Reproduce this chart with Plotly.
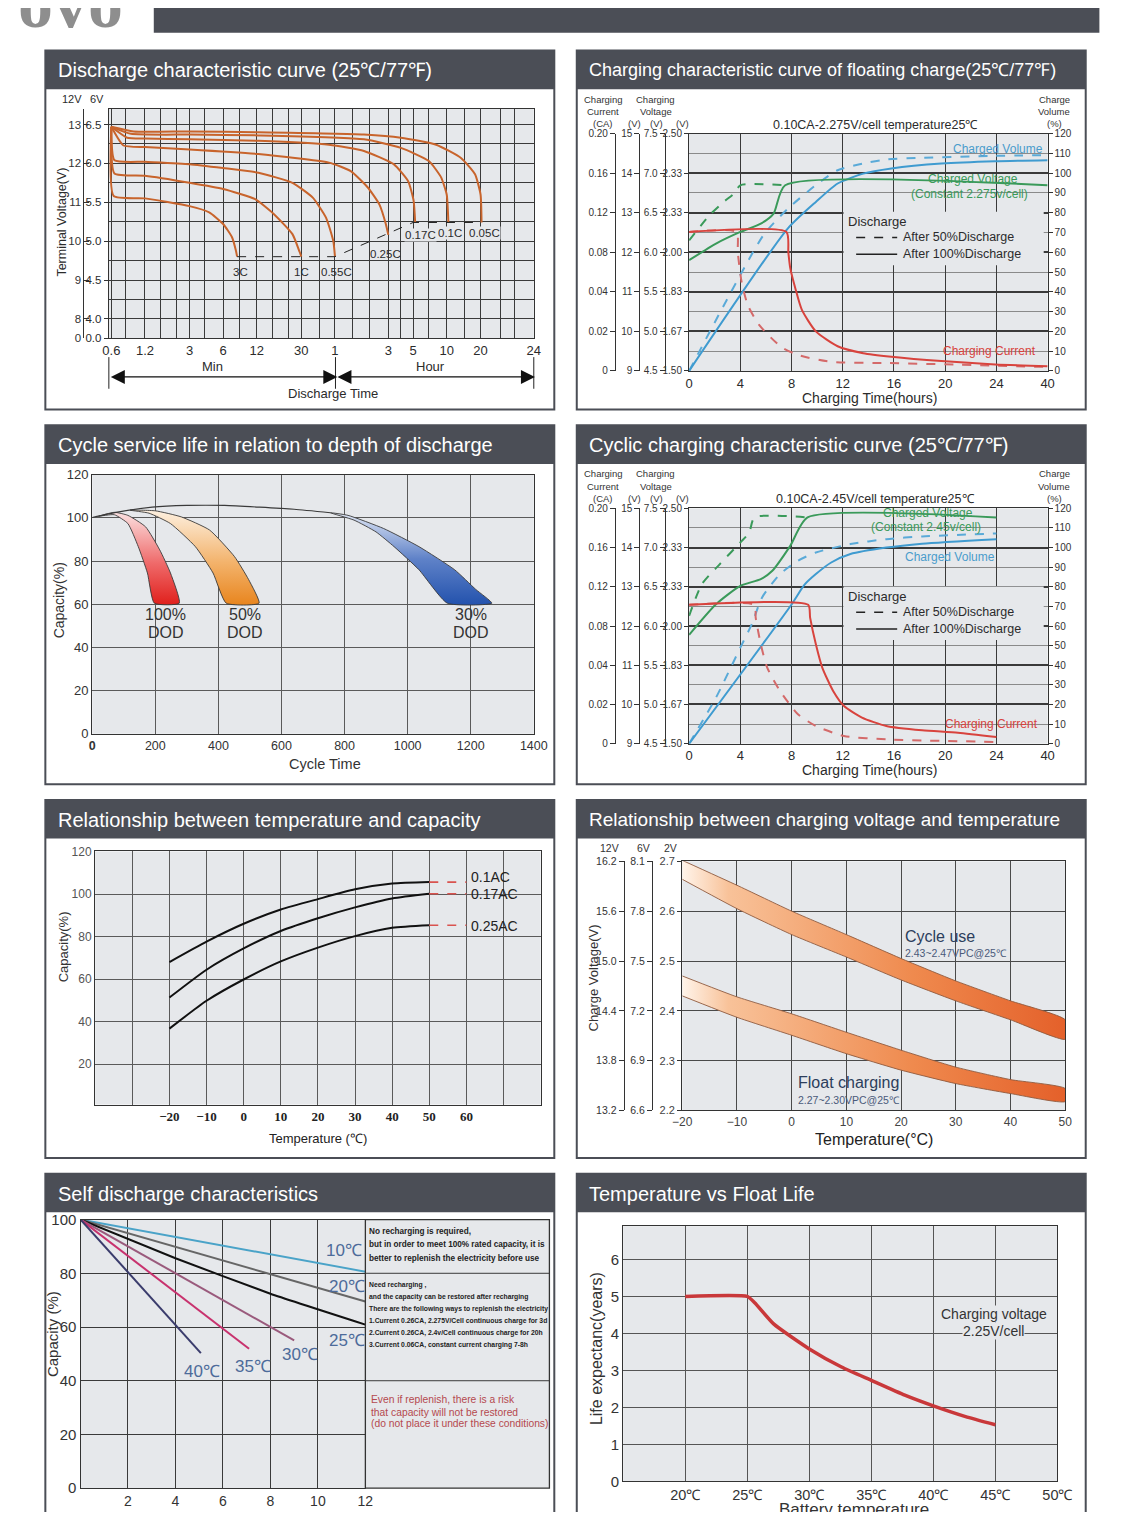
"""Battery datasheet: eight characteristic charts rebuilt with Plotly."""

import numpy as np
import plotly.graph_objects as go

# the page keeps the browser's 8px body margin, so the figure is drawn 16px
# smaller than the photographed window and every pixel position is offset
W, H = 1140, 1520
OFF = 8
FW, FH = W - 2 * OFF, H - 2 * OFF

SANS = "Liberation Sans, Arial, sans-serif"
SERIF = "Liberation Serif, Times New Roman, serif"

HEAD = "#4b4e56"
BG = "#e6e8eb"
GRID = "#3a3a3a"
INK = "#2b2b2b"
COLORS = {
    "discharge": "#c8642c",
    "blue": "#3f9bd0",
    "blue_dash": "#5aaad8",
    "green": "#3a9a5a",
    "red": "#d8433d",
    "red_dash": "#d46a6a",
}

# ---------------------------------------------------------------- data
# 1. discharge curves: time in minutes, voltage on the 6V scale
DIS_TICK_MIN = [0.6, 1.2, 3, 6, 12, 30, 60, 180, 300, 600, 1200, 3600]
DIS_TICK_TEXT = ["0.6", "1.2", "3", "6", "12", "30", "1", "3", "5", "10", "20", "24"]
DIS_GRID_MIN = [0.8, 1.65, 2.3, 4.1, 8.4, 16.7, 23, 44, 86, 122, 230, 415, 865, 1800, 2400]
DIS_V6_TICKS = [3.75, 4.0, 4.5, 5.0, 5.5, 6.0, 6.5]
DIS_V6_TEXT = ["0.0", "4.0", "4.5", "5.0", "5.5", "6.0", "6.5"]
DIS_V12_TEXT = ["0", "8", "9", "10", "11", "12", "13"]

T_3C = [0.6, 0.63, 1.2, 3.0, 4.5, 6.0, 7.2, 7.8, 8.0]
V_3C = [6.47, 5.58, 5.55, 5.45, 5.37, 5.22, 5.05, 4.88, 4.80]
T_1C = [0.6, 0.64, 1.2, 3, 6, 11.6, 17, 25, 29, 30]
V_1C = [6.47, 5.87, 5.84, 5.75, 5.67, 5.54, 5.35, 5.09, 4.86, 4.80]
T_055C = [0.6, 0.64, 1.2, 3, 6, 12.4, 25, 38, 50, 58, 60]
V_055C = [6.47, 6.04, 6.02, 5.99, 5.94, 5.88, 5.75, 5.56, 5.30, 5.00, 4.80]
T_025C = [0.6, 0.77, 1.2, 3, 12.4, 53, 83, 118, 150, 171, 180]
V_025C = [6.47, 6.23, 6.21, 6.18, 6.12, 6.01, 5.90, 5.69, 5.47, 5.22, 5.08]
T_017C = [0.6, 0.83, 1.2, 3, 12.4, 53, 109, 201, 271, 303, 313]
V_017C = [6.47, 6.33, 6.32, 6.31, 6.29, 6.24, 6.16, 5.99, 5.77, 5.52, 5.24]
T_01C = [0.6, 0.9, 3, 12.4, 109, 233, 415, 534, 599, 620]
V_01C = [6.47, 6.38, 6.37, 6.36, 6.31, 6.20, 6.03, 5.82, 5.60, 5.24]
T_005C = [0.6, 0.95, 3, 12.4, 109, 233, 482, 804, 1074, 1203, 1228]
V_005C = [6.47, 6.41, 6.41, 6.40, 6.37, 6.33, 6.24, 6.07, 5.86, 5.60, 5.24]
CUTOFF_T = [8, 60, 300, 1228]
CUTOFF_V = [4.80, 4.80, 5.24, 5.24]
RATE_NAMES = ["3C", "1C", "0.55C", "0.25C", "0.17C", "0.1C", "0.05C"]
RATE_LABEL_T = [8.6, 30, 62, 171, 347, 643, 1310]
RATE_LABEL_V = [4.60, 4.60, 4.60, 4.83, 5.08, 5.11, 5.10]

# 2./4. charging curves: hours (last gridline is labelled 40), % of right scale
CHG_T_TICKS = [0, 4, 8, 12, 16, 20, 24, 28]
CHG_T_TEXT = ["0", "4", "8", "12", "16", "20", "24", "40"]
CHG_PCT_TICKS = [0, 20, 40, 60, 80, 100, 120]
CHG_PCT_MINOR = [10, 30, 50, 70, 90, 110]
CHG_VOL_TICKS = [0, 10, 20, 30, 40, 50, 60, 70, 80, 90, 100, 110, 120]
CHG_CA_TEXT = ["0", "0.02", "0.04", "0.08", "0.12", "0.16", "0.20"]
CHG_V12_TEXT = ["9", "10", "11", "12", "13", "14", "15"]
CHG_V6_TEXT = ["4.5", "5.0", "5.5", "6.0", "6.5", "7.0", "7.5"]
CHG_VPC_TEXT = ["1.50", "1.67", "1.83", "2.00", "2.33", "2.33", "2.50"]

F_VOL50_T = [0, 5.8, 7.7, 9.9, 11.6, 13.6, 15.5, 18.3, 23.9, 28]
F_VOL50 = [0, 68.6, 82, 94, 101.5, 104.9, 107, 107.8, 108.8, 109.1]
F_VOL100_T = [0, 7.7, 9.9, 11.6, 13.6, 15.8, 19.7, 23.9, 28]
F_VOL100 = [0, 72, 85.5, 94.8, 99.8, 102.4, 104.9, 106.1, 106.6]
F_VLT50_T = [0, 1.6, 2.7, 3.5, 4.0, 7.5]
F_VLT50 = [66, 78.8, 85.5, 89.7, 93.9, 93.9]
F_VLT100_T = [0, 2.1, 4, 5.6, 6.6, 7.5, 28]
F_VLT100 = [56, 64.4, 70.3, 74.5, 79.6, 93.9, 93.9]
F_CUR50_T = [0, 3.7, 3.8, 4.1, 4.6, 5.5, 7.2, 8.6, 11.1, 15.5, 21.1, 28]
F_CUR50 = [70.3, 70.3, 60, 45, 33, 23, 12.1, 7.9, 4.6, 4.0, 3.2, 2.0]
F_CUR100_T = [0, 7.6, 7.75, 7.9, 8.3, 8.8, 9.9, 11.6, 13.6, 15.8, 19.7, 23.9, 28]
F_CUR100 = [70.3, 70.3, 60, 52, 41.7, 31, 20, 12.5, 9, 7.2, 5, 3.3, 2.4]

C_VOL50_T = [0, 2.1, 4, 4.9, 5.7, 7.1, 8.5, 9.9, 12.6, 15.4, 18.2, 24]
C_VOL50 = [0, 23.5, 49, 61, 74.6, 86.5, 93.3, 97.5, 101.8, 104.3, 105.7, 107.2]
C_VOL100_T = [0, 8, 9, 9.9, 11.1, 12.6, 15.4, 18.2, 24]
C_VOL100 = [0, 71, 81, 86.5, 92.4, 96.7, 100, 102, 104.3]
C_VLT50_T = [0, 1, 2.4, 4, 4.7, 5.1, 9.25]
C_VLT50 = [65.2, 81.4, 91.6, 102.6, 107.7, 115.4, 115.4]
C_VLT100_T = [0, 2.1, 4, 5.6, 6.5, 7.9, 9.25, 24]
C_VLT100 = [55.5, 71.1, 80.5, 83.9, 88.2, 100.9, 115.4, 115.4]
C_CUR50_T = [0, 5.1, 5.2, 5.6, 6.1, 7.1, 8.5, 9.9, 12.1, 15.4, 24]
C_CUR50 = [70.8, 70.8, 64.3, 50.7, 38.8, 26.9, 15, 9, 3.9, 2.2, 0.9]
C_CUR100_T = [0, 9.3, 9.45, 9.9, 10.4, 11.25, 12.1, 13.5, 15.4, 18.2, 21, 24]
C_CUR100 = [70.8, 70.8, 64.3, 50.7, 38.8, 26.9, 19.2, 13.3, 9, 6.8, 5.6, 3.4]

# 3. cycle life: cycles vs capacity %
ENV_X = [0, 80, 190, 300, 420, 530, 640, 755]
ENV_Y = [100.2, 102.7, 105, 105.8, 105.8, 105, 104, 102.4]
RED_L_X = [20, 70, 113, 146, 175, 197]
RED_L_Y = [100.8, 101.5, 97.4, 86.7, 74.5, 60.5]
RED_R_X = [20, 70, 113, 169, 214, 248, 276]
RED_R_Y = [100.8, 102.6, 101.2, 95.9, 85.2, 74.5, 60.5]
ORG_L_X = [120, 180, 248, 327, 383, 425]
ORG_L_Y = [103.6, 102.2, 97.4, 86.7, 74.5, 60.5]
ORG_R_X = [120, 200, 282, 372, 451, 496, 529]
ORG_R_Y = [103.6, 103.3, 100.5, 94.4, 82.1, 71.4, 60.5]
BLU_L_X = [755, 830, 900, 957, 1036, 1126]
BLU_L_Y = [102.4, 99.0, 93.5, 86.7, 76, 60.5]
BLU_R_X = [755, 811, 924, 1036, 1149, 1216, 1267]
BLU_R_Y = [102.4, 101.2, 95.1, 86.7, 76, 66.9, 60.5]

# 5. temperature vs capacity
TC_TICKS = [-30, -20, -10, 0, 10, 20, 30, 40, 50, 60, 70]
TC_TEXT = ["", "−20", "−10", "0", "10", "20", "30", "40", "50", "60", ""]
TC_TEMP = [-20, -10, 0, 10, 20, 30, 40, 50]
CAP_01 = [68.0, 77.6, 86.0, 92.7, 97.6, 102.2, 104.9, 105.6]
CAP_017 = [51.3, 64.4, 74.4, 82.6, 88.6, 93.7, 97.9, 100.1]
CAP_025 = [36.7, 49.8, 59.8, 68.3, 74.8, 80.2, 84.1, 85.3]
TC_EXT = [50, 60]
CAP_NAMES = ["0.1AC", "0.17AC", "0.25AC"]

# 6. charging voltage vs temperature (per cell)
CV_TICKS = [2.2, 2.3, 2.4, 2.5, 2.6, 2.7]
CV_12V = ["13.2", "13.8", "14.4", "15.0", "15.6", "16.2"]
CV_6V = ["6.6", "6.9", "7.2", "7.5", "7.8", "8.1"]
CV_2V = ["2.2", "2.3", "2.4", "2.5", "2.6", "2.7"]
CV_TEMP = [-20, -10, 0, 10, 20, 30, 40, 50]
CYCLE_HI = [2.702, 2.652, 2.600, 2.553, 2.505, 2.460, 2.420, 2.382]
CYCLE_LO = [2.664, 2.605, 2.553, 2.508, 2.462, 2.420, 2.382, 2.343]
FLOAT_HI = [2.470, 2.428, 2.394, 2.357, 2.321, 2.287, 2.262, 2.244]
FLOAT_LO = [2.430, 2.387, 2.351, 2.314, 2.281, 2.254, 2.234, 2.218]

# 7. self discharge: months vs capacity %
SD_TICKS = [2, 4, 6, 8, 10, 12]
SD_10_X, SD_10_Y = [0, 12], [100, 80.6]
SD_20_X, SD_20_Y = [0, 12], [100, 69.5]
SD_25_X, SD_25_Y = [0, 4, 8, 12], [100, 85.6, 72.4, 60.9]
SD_30_X, SD_30_Y = [0, 9.0], [100, 55.0]
SD_35_X, SD_35_Y = [0, 7.1], [100, 51.9]
SD_40_X, SD_40_Y = [0, 5.07], [100, 50.3]

# 8. float life
FL_TICKS = [20, 25, 30, 35, 40, 45, 50]
FL_TEXT = ["20℃", "25℃", "30℃", "35℃", "40℃", "45℃", "50℃"]
FL_TEMP = [20, 25, 25.6, 27.15, 30, 32.6, 35, 37.7, 40, 42.6, 45]
FL_LIFE = [5.0, 5.0, 4.83, 4.25, 3.58, 3.09, 2.73, 2.33, 2.04, 1.75, 1.53]

# ---------------------------------------------------------------- helpers
fig = go.Figure()
axes = {}
shapes = []
notes = []
count = {"x": 0, "y": 0}


def hx(p):
    """window pixel x -> paper x"""
    return (p - OFF) / FW


def vy(p):
    """window pixel y (from top) -> paper y"""
    return 1 - (p - OFF) / FH


def new_axis(kind):
    count[kind] += 1
    n = count[kind]
    return kind + (str(n) if n > 1 else "")


def key(name):
    return name[0] + "axis" + name[1:]


def font(size, color=INK, family=SANS):
    return dict(size=size, color=color, family=family)


def text(x, y, s, size=12, color=INK, family=SANS, anchor="center", angle=0, bg=None):
    notes.append(dict(x=hx(x), y=vy(y), xref="paper", yref="paper", text=s,
                      showarrow=False, xanchor=anchor, yanchor="middle",
                      textangle=angle, font=font(size, color, family),
                      bgcolor=bg, borderpad=0))


def hline(x0, x1, y, color="#222", width=1, dash="solid"):
    shapes.append(dict(type="line", xref="paper", yref="paper", x0=hx(x0), x1=hx(x1),
                       y0=vy(y), y1=vy(y), line=dict(color=color, width=width, dash=dash)))


def vline(x, y0, y1, color="#222", width=1):
    shapes.append(dict(type="line", xref="paper", yref="paper", x0=hx(x), x1=hx(x),
                       y0=vy(y0), y1=vy(y1), line=dict(color=color, width=width)))


def frame_axis(**kw):
    base = dict(showline=True, mirror=True, linecolor="#333", linewidth=1.3,
                zeroline=False, showgrid=True, gridcolor=GRID, gridwidth=1,
                ticks="", fixedrange=True)
    base.update(kw)
    return base


def side_axis(over, pos, vals, labels, rng, ticks="outside", size=10.5):
    return dict(overlaying=over, anchor="free", position=hx(pos), side="left",
                range=rng, tickvals=vals, ticktext=labels, ticks=ticks, ticklen=5,
                tickcolor="#333", showline=True, linecolor="#333", linewidth=1,
                showgrid=False, zeroline=False, fixedrange=True,
                tickfont=font(size, "#333", SANS))


def dummy(xa, ya):
    fig.add_trace(go.Scatter(x=[None], y=[None], xaxis=xa, yaxis=ya,
                             hoverinfo="skip", showlegend=False))


def curve(xa, ya, xs, ys, color, width=2, dash="solid", shape="spline", smoothing=0.6):
    fig.add_trace(go.Scatter(x=xs, y=ys, xaxis=xa, yaxis=ya, mode="lines",
                             line=dict(color=color, width=width, dash=dash,
                                       shape=shape, smoothing=smoothing),
                             hoverinfo="skip", showlegend=False))


def band(xa, ya, xs, ys, gradient, colors, edge="#3a3a3a"):
    fig.add_trace(go.Scatter(x=xs, y=ys, xaxis=xa, yaxis=ya, mode="lines",
                             fill="toself",
                             fillgradient=dict(type=gradient, colorscale=colors),
                             line=dict(color=edge, width=0.9, shape="spline", smoothing=0.5),
                             hoverinfo="skip", showlegend=False))


def panel(x0, x1, y0, y1, title, size=20):
    shapes.append(dict(type="rect", xref="paper", yref="paper", x0=hx(x0), x1=hx(x1),
                       y0=vy(y0 + 39), y1=vy(y0), fillcolor=HEAD, line=dict(width=0)))
    shapes.append(dict(type="rect", xref="paper", yref="paper", x0=hx(x0), x1=hx(x1),
                       y0=vy(y1), y1=vy(y0), line=dict(color=HEAD, width=2)))
    text(x0 + 12, y0 + 20, title, size=size, color="white", anchor="left")


# ---------------------------------------------------------------- page top
shapes.append(dict(type="rect", xref="paper", yref="paper", x0=hx(147), x1=hx(1115),
                   y0=vy(24), y1=vy(-5), fillcolor=HEAD, line=dict(width=0)))
notes.append(dict(x=hx(6), y=vy(35), xref="paper", yref="paper", text="<b>ovo</b>",
                  showarrow=False, xanchor="left", yanchor="bottom",
                  font=font(70, "#8e8e8e", SERIF)))

# ---------------------------------------------------------------- 1. discharge
panel(36, 557, 42, 405, "Discharge characteristic curve (25℃/77℉)")
x1, y1, y1b = new_axis("x"), new_axis("y"), new_axis("y")
axes[key(x1)] = frame_axis(
    domain=[hx(101), hx(536)], anchor=y1, type="log",
    range=[np.log10(0.57), np.log10(3600)],
    tickvals=DIS_TICK_MIN, ticktext=DIS_TICK_TEXT,
    minor=dict(tickmode="array", tickvals=DIS_GRID_MIN, showgrid=True,
               gridcolor=GRID, gridwidth=1, ticks=""),
    tickfont=font(13, INK, SANS))
axes[key(y1)] = frame_axis(
    domain=[vy(333), vy(101)], anchor=x1, range=[3.75, 6.7],
    tickvals=DIS_V6_TICKS, ticktext=DIS_V6_TEXT, ticks="outside", ticklen=4,
    tickcolor="#333", minor=dict(tick0=3.75, dtick=0.25, showgrid=True,
                                 gridcolor=GRID, gridwidth=1, ticks=""),
    tickfont=font(11.5, INK, SANS))
axes[key(y1b)] = side_axis(y1, 75, DIS_V6_TICKS, DIS_V12_TEXT, [3.75, 6.7],
                           ticks="inside", size=11.5)
dummy(x1, y1b)

for ts, vs in [(T_3C, V_3C), (T_1C, V_1C), (T_055C, V_055C), (T_025C, V_025C),
               (T_017C, V_017C), (T_01C, V_01C), (T_005C, V_005C)]:
    curve(x1, y1, ts, vs, COLORS["discharge"], width=2, smoothing=0.5)
curve(x1, y1, CUTOFF_T, CUTOFF_V, "#222", width=1, dash="dash", shape="linear")
for i, (name, t, v) in enumerate(zip(RATE_NAMES, RATE_LABEL_T, RATE_LABEL_V)):
    notes.append(dict(x=np.log10(t), y=v, xref=x1, yref=y1, text=name, showarrow=False,
                      font=font(11.5, INK, SANS), bgcolor=BG if i >= 4 else None,
                      borderpad=0))

text(63, 91, "12V", 11, INK)
text(89, 91, "6V", 11, INK)
text(53, 215, "Terminal Voltage(V)", 12.5, INK, angle=-90)
text(207, 362, "Min", 13, INK)
text(430, 362, "Hour", 13, INK)
text(330, 389, "Discharge Time", 13, INK)
for xp in (101, 333, 536):
    vline(xp, 352, 384, "#222", 1)
for a, b in [(103, 331), (335, 534)]:
    notes.append(dict(x=hx(a), y=vy(372), xref="paper", yref="paper", ax=b - a, ay=0,
                      axref="pixel", ayref="pixel", text="", showarrow=True,
                      arrowhead=2, startarrowhead=2, arrowside="end+start",
                      arrowsize=2, startarrowsize=2, arrowwidth=1.4, arrowcolor="#111"))


# ---------------------------------------------------------------- 2./4. charging
def charging_panel(top, bottom, series, subtitle, labels, legend_y):
    left, right = 695, 1062
    xa, ya, yr = new_axis("x"), new_axis("y"), new_axis("y")
    cols = [new_axis("y") for _ in range(3)]
    axes[key(xa)] = frame_axis(domain=[hx(left), hx(right)], anchor=ya, range=[0, 28],
                               tickvals=CHG_T_TICKS, ticktext=CHG_T_TEXT,
                               tickfont=font(13, INK, SANS))
    axes[key(ya)] = frame_axis(domain=[vy(bottom), vy(top)], anchor=xa, range=[0, 120],
                               tickvals=CHG_PCT_TICKS, ticktext=CHG_VPC_TEXT,
                               ticks="outside", ticklen=4, tickcolor="#333", gridwidth=1.5,
                               minor=dict(tickmode="array", tickvals=CHG_PCT_MINOR,
                                          showgrid=True, gridcolor="#8a8a8a", gridwidth=1,
                                          ticks=""),
                               tickfont=font(10, "#333", SANS))
    axes[key(yr)] = dict(overlaying=ya, anchor=xa, side="right", range=[0, 120],
                         tickvals=CHG_VOL_TICKS, ticks="outside", ticklen=4,
                         tickcolor="#333", showgrid=False, zeroline=False,
                         showline=False, fixedrange=True,
                         tickfont=font(10, "#333", SANS))
    dummy(xa, yr)
    for name, pos, labs in zip(cols, (619, 644, 670), (CHG_CA_TEXT, CHG_V12_TEXT, CHG_V6_TEXT)):
        axes[key(name)] = side_axis(ya, pos, CHG_PCT_TICKS, labs, [0, 120], size=10)
        dummy(xa, name)
    for ts, vs, color, dash in series:
        curve(xa, ya, ts, vs, color, width=2, dash=dash, smoothing=0.6)

    head = top - 35
    for dy, s in ((0, "Charging"), (13, "Current"), (25, "(CA)")):
        text(607, head + dy, s, 9.5, "#333")
    for dy, s in ((0, "Charging"), (13, "Voltage")):
        text(661, head + dy, s, 9.5, "#333")
    for xp in (639, 662, 688):
        text(xp, head + 25, "(V)", 9.5, "#333")
    for dy, s in ((0, "Charge"), (13, "Volume"), (25, "(%)")):
        text(1069, head + dy, s, 9.5, "#333")
    text(886, top - 9, subtitle, 12.5, INK)
    for lx, ly, s, color, anchor in labels:
        text(lx, ly, s, 12, color, SANS, anchor=anchor)
    # legend block
    shapes.append(dict(type="rect", xref="paper", yref="paper", x0=hx(853), x1=hx(1058),
                       y0=vy(legend_y + 44), y1=vy(legend_y - 10), fillcolor=BG,
                       line=dict(width=0)))
    text(857, legend_y, "Discharge", 13, INK, anchor="left")
    hline(866, 908, legend_y + 16, "#222", 1.6, "dash")
    text(913, legend_y + 16, "After 50%Discharge", 12.5, INK, anchor="left")
    hline(866, 908, legend_y + 33, "#222", 1.6)
    text(913, legend_y + 33, "After 100%Discharge", 12.5, INK, anchor="left")
    text(880, bottom + 27, "Charging Time(hours)", 14, INK)


panel(580, 1101, 42, 405, "Charging characteristic curve of floating charge(25℃/77℉)",
      size=18)
charging_panel(
    126, 366,
    [(F_VOL50_T, F_VOL50, COLORS["blue_dash"], "dash"),
     (F_VOL100_T, F_VOL100, COLORS["blue"], "solid"),
     (F_VLT50_T, F_VLT50, COLORS["green"], "dash"),
     (F_VLT100_T, F_VLT100, COLORS["green"], "solid"),
     (F_CUR50_T, F_CUR50, COLORS["red_dash"], "dash"),
     (F_CUR100_T, F_CUR100, COLORS["red"], "solid")],
    "0.10CA-2.275V/cell temperature25℃",
    [(1058, 142, "Charged Volume", "#4a9ccc", "right"),
     (986, 172, "Charged Voltage", COLORS["green"], "center"),
     (982, 187, "(Constant 2.275v/cell)", COLORS["green"], "center"),
     (1003, 346, "Charging Current", COLORS["red"], "center")],
    215)

panel(580, 1101, 421, 784, "Cyclic charging characteristic curve (25℃/77℉)")
charging_panel(
    505, 743,
    [(C_VOL50_T, C_VOL50, COLORS["blue_dash"], "dash"),
     (C_VOL100_T, C_VOL100, COLORS["blue"], "solid"),
     (C_VLT50_T, C_VLT50, COLORS["green"], "dash"),
     (C_VLT100_T, C_VLT100, COLORS["green"], "solid"),
     (C_CUR50_T, C_CUR50, COLORS["red_dash"], "dash"),
     (C_CUR100_T, C_CUR100, COLORS["red"], "solid")],
    "0.10CA-2.45V/cell temperature25℃",
    [(940, 510, "Charged Voltage", COLORS["green"], "center"),
     (937, 524, "(Constant 2.45v/cell)", COLORS["green"], "center"),
     (962, 554, "Charged Volume", "#4a9ccc", "center"),
     (1005, 723, "Charging Current", COLORS["red"], "center")],
    594)

# ---------------------------------------------------------------- 3. cycle life
panel(36, 557, 421, 784, "Cycle service life in relation to depth of discharge")
x3, y3 = new_axis("x"), new_axis("y")
axes[key(x3)] = frame_axis(domain=[hx(84), hx(536)], anchor=y3, range=[0, 1400],
                           tickvals=list(range(0, 1401, 200)),
                           ticktext=["<b>0</b>"] + [str(v) for v in range(200, 1401, 200)],
                           gridcolor="#5a5a5a", tickfont=font(12.5, "#333", SANS))
axes[key(y3)] = frame_axis(domain=[vy(733), vy(471)], anchor=x3, range=[0, 120], dtick=20,
                           gridcolor="#5a5a5a", tickfont=font(13, "#333", SANS))
band(x3, y3, RED_L_X + RED_R_X[::-1], RED_L_Y + RED_R_Y[::-1], "vertical",
     [[0, "#e0201c"], [0.45, "#ef6a6a"], [1, "#fbe0e0"]])
band(x3, y3, ORG_L_X + ORG_R_X[::-1], ORG_L_Y + ORG_R_Y[::-1], "vertical",
     [[0, "#e8851e"], [0.45, "#f3b36c"], [1, "#fdf0e0"]])
band(x3, y3, BLU_L_X + BLU_R_X[::-1], BLU_L_Y + BLU_R_Y[::-1], "vertical",
     [[0, "#2352ad"], [0.5, "#5f82c8"], [1, "#dfe6f4"]])
curve(x3, y3, ENV_X, ENV_Y, "#3a3a3a", width=1.1)
for xp, s in ((159, "100%"), (240, "50%"), (472, "30%")):
    text(xp, 612, s, 16, "#333")
    text(xp, 631, "DOD", 16, "#333")
text(50, 598, "Capacity(%)", 14, "#333", angle=-90)
text(322, 764, "Cycle Time", 14.5, "#333")

# ---------------------------------------------------------------- 5. temperature vs capacity
panel(36, 557, 800, 1162, "Relationship between temperature and capacity")
x5, y5 = new_axis("x"), new_axis("y")
axes[key(x5)] = frame_axis(domain=[hx(87), hx(543)], anchor=y5, range=[-40, 80],
                           tickvals=TC_TICKS, ticktext=["<b>%s</b>" % t for t in TC_TEXT],
                           gridcolor="#5a5a5a", tickfont=font(13, "#222", SERIF))
axes[key(y5)] = frame_axis(domain=[vy(1108), vy(852)], anchor=x5, range=[1, 120],
                           tickvals=[20, 40, 60, 80, 100, 120], gridcolor="#5a5a5a",
                           tickfont=font(12, "#555", SANS))
for cap in (CAP_01, CAP_017, CAP_025):
    curve(x5, y5, TC_TEMP, cap, "#111", width=2)
    curve(x5, y5, TC_EXT, [cap[-1], cap[-1]], "#d9534f", width=1.6, dash="dash", shape="linear")
for yp, s in ((878, CAP_NAMES[0]), (895, CAP_NAMES[1]), (927, CAP_NAMES[2])):
    text(471, yp, s, 14, "#222", anchor="left")
text(54, 948, "Capacity(%)", 13, "#333", angle=-90)
text(315, 1142, "Temperature (℃)", 13, "#222")

# ---------------------------------------------------------------- 6. charging voltage vs temperature
panel(580, 1101, 800, 1162, "Relationship between charging voltage and temperature", size=19)
x6, y6, y6a, y6b = new_axis("x"), new_axis("y"), new_axis("y"), new_axis("y")
axes[key(x6)] = frame_axis(domain=[hx(688), hx(1080)], anchor=y6, range=[-20, 50], dtick=10,
                           gridcolor="#4a4a4a", tickfont=font(12, "#444", SANS))
axes[key(y6)] = frame_axis(domain=[vy(1114), vy(862)], anchor=x6, range=[2.2, 2.7],
                           tickvals=CV_TICKS, ticktext=CV_2V, ticks="outside", ticklen=4,
                           tickcolor="#333", gridcolor="#4a4a4a",
                           tickfont=font(11, "#444", SANS))
axes[key(y6a)] = side_axis(y6, 628, CV_TICKS, CV_12V, [2.2, 2.7])
axes[key(y6b)] = side_axis(y6, 657, CV_TICKS, CV_6V, [2.2, 2.7])
dummy(x6, y6a)
dummy(x6, y6b)
orange = [[0, "#fff4ea"], [0.12, "#f8c299"], [0.6, "#ef8a4e"], [1, "#e4602a"]]
band(x6, y6, CV_TEMP + CV_TEMP[::-1], CYCLE_HI + CYCLE_LO[::-1], "horizontal", orange, "#8e5a3e")
band(x6, y6, CV_TEMP + CV_TEMP[::-1], FLOAT_HI + FLOAT_LO[::-1], "horizontal", orange, "#8e5a3e")
text(614, 849, "12V", 10.5, "#333")
text(648, 849, "6V", 10.5, "#333")
text(676, 849, "2V", 10.5, "#333")
text(915, 938, "Cycle use", 16, "#2c3e5c", anchor="left")
text(915, 955, "2.43~2.47VPC@25℃", 10.5, "#4a5a7a", anchor="left")
text(805, 1086, "Float charging", 16, "#2c3e5c", anchor="left")
text(805, 1103, "2.27~2.30VPC@25℃", 10.5, "#4a5a7a", anchor="left")
text(597, 980, "Charge Voltage(V)", 13, "#333", angle=-90)
text(884, 1143, "Temperature(°C)", 16, "#222")

# ---------------------------------------------------------------- 7. self discharge
panel(36, 557, 1178, 1540, "Self discharge characteristics")
x7, y7 = new_axis("x"), new_axis("y")
axes[key(x7)] = frame_axis(domain=[hx(72), hx(363.6)], anchor=y7, range=[0, 12],
                           tickvals=SD_TICKS, tickfont=font(14, "#333", SANS))
axes[key(y7)] = frame_axis(domain=[vy(1496), vy(1224.3)], anchor=x7, range=[0, 100],
                           dtick=20, tickfont=font(15, "#333", SANS))
shapes.append(dict(type="rect", xref="paper", yref="paper", x0=hx(363.6), x1=hx(552),
                   y0=vy(1496), y1=vy(1224.3), fillcolor=BG,
                   line=dict(color="#333", width=1.3)))
for level in (80, 40):
    shapes.append(dict(type="line", xref="paper", yref=y7, x0=hx(363.6), x1=hx(552),
                       y0=level, y1=level, line=dict(color=GRID, width=1)))
for xs, ys, color in ((SD_10_X, SD_10_Y, "#4aa3c8"), (SD_20_X, SD_20_Y, "#666666"),
                      (SD_25_X, SD_25_Y, "#111111"), (SD_30_X, SD_30_Y, "#9a5a7c"),
                      (SD_35_X, SD_35_Y, "#c8326e"), (SD_40_X, SD_40_Y, "#3a3c6c")):
    curve(x7, y7, xs, ys, color, width=2, smoothing=0.4)
for xp, yp, s in ((342, 1256, "10℃"), (345, 1292, "20℃"), (345, 1347, "25℃"),
                  (297, 1361, "30℃"), (249, 1373, "35℃"), (196, 1378, "40℃")):
    text(xp, yp, s, 17, "#4d6b9a")
for yp, s in ((1236, "No recharging is required,"),
              (1250, "but in order to meet 100% rated capacity, it is"),
              (1264, "better to replenish the electricity before use")):
    text(366, yp, "<b>%s</b>" % s, 8.2, "#222", anchor="left")
for yp, s in ((1291, "Need recharging ,"),
              (1303, "and the capacity can be restored after recharging"),
              (1315, "There are the following ways to replenish the electricity"),
              (1327, "1.Current 0.26CA, 2.275V/Cell continuous charge for 3d"),
              (1339, "2.Current 0.26CA, 2.4v/Cell continuous charge for 20h"),
              (1351, "3.Current 0.06CA, constant current charging 7-8h")):
    text(366, yp, "<b>%s</b>" % s, 6.8, "#222", anchor="left")
for yp, s in ((1406, "Even if replenish, there is a risk"),
              (1419, "that capacity will not be restored"),
              (1431, "(do not place it under these conditions)")):
    text(368, yp, s, 10.3, "#b5484f", SANS, anchor="left")
text(44, 1340, "Capacity (%)", 15, "#333", angle=-90)

# ---------------------------------------------------------------- 8. float life
panel(580, 1101, 1178, 1540, "Temperature vs Float Life")
x8, y8 = new_axis("x"), new_axis("y")
axes[key(x8)] = frame_axis(domain=[hx(627.5), hx(1072)], anchor=y8, range=[15, 50],
                           tickvals=FL_TICKS, ticktext=FL_TEXT, gridcolor="#555",
                           tickfont=font(14.5, "#333", SANS))
axes[key(y8)] = frame_axis(domain=[vy(1489), vy(1231)], anchor=x8, range=[0, 6.9], dtick=1,
                           gridcolor="#555", tickfont=font(15, "#333", SANS))
curve(x8, y8, FL_TEMP, FL_LIFE, "#c9383a", width=3.5, smoothing=0.5)
text(1007, 1320, "Charging voltage", 14, "#333", bg=BG)
text(1007, 1337, "2.25V/cell", 14, "#333", bg=BG)
text(600, 1355, "Life expectanc(years)", 16, "#333", angle=-90)
# the axis title sits on the bottom edge of the page and is cut there, as in the sheet
text(864, 1518, "Battery temperature", 17, "#333")

# ---------------------------------------------------------------- layout
fig.update_layout(
    width=FW, height=FH, autosize=False,
    margin=dict(l=0, r=0, t=0, b=0),
    paper_bgcolor="white", plot_bgcolor=BG, showlegend=False,
    shapes=shapes, annotations=notes, **axes,
)

fig.write_html("out.html", config={"displayModeBar": False})
